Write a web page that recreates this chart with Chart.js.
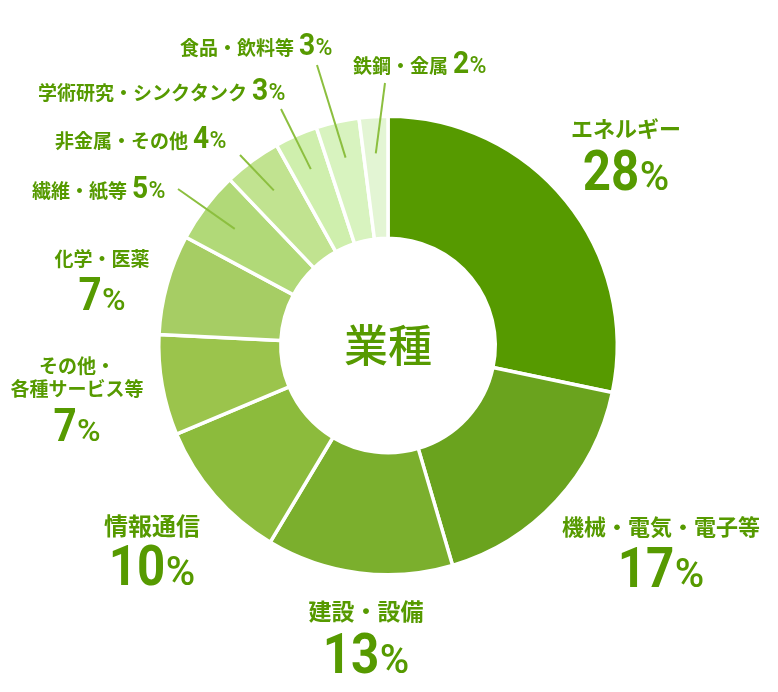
<!DOCTYPE html>
<html lang="ja">
<head>
<meta charset="utf-8">
<title>業種</title>
<script src="https://cdn.jsdelivr.net/npm/chart.js@4"></script>
<style>
  html, body { margin: 0; padding: 0; background: #fff; }
  #wrap { width: 778px; height: 692px; }
</style>
</head>
<body>
<div id="wrap"><canvas id="industryChart" width="778" height="692"></canvas></div>
<script>
// data (percent of total, clockwise from 12 o'clock)
const industries = [
    'エネルギー',
    '機械・電気・電子等',
    '建設・設備',
    '情報通信',
    'その他・\n各種サービス等',
    '化学・医薬',
    '繊維・紙等',
    '非金属・その他',
    '学術研究・シンクタンク',
    '食品・飲料等',
    '鉄鋼・金属'
];
const shares = [28, 17, 13, 10, 7, 7, 5, 4, 3, 3, 2];
const centerTitle = '業種';

const sliceColors = [
    '#569a00', '#6aa31e', '#7baf2d', '#8cbb3c', '#9bc44c', '#a6cd64',
    '#b1d978', '#c1e390', '#cfefad', '#d8f3bf', '#e3f5d4'
];
const TEXT_GREEN = '#569a00';
const LINE_GREEN = '#8cbf3f';

// label placement: stacked = name above a big number, inline = name + number with a leader line
const labelLayout = [
    { type: 'stack', x: 626, lines: [137], num: 190, size: 22, tier: 'big' },
    { type: 'stack', x: 661, lines: [535], num: 587, size: 22, tier: 'big' },
    { type: 'stack', x: 366, lines: [620], num: 673, size: 23, tier: 'big' },
    { type: 'stack', x: 152, lines: [535], num: 585, size: 24, tier: 'big' },
    { type: 'stack', x: 77, lines: [373, 396], num: 441, size: 19, tier: 'mid' },
    { type: 'stack', x: 102, lines: [266], num: 310, size: 19, tier: 'mid' },
    { type: 'inline', x: 32, y: 198, lx: 178, ly: 189 },
    { type: 'inline', x: 55, y: 148, lx: 240, ly: 155 },
    { type: 'inline', x: 38, y: 100, lx: 281, ly: 109 },
    { type: 'inline', x: 180, y: 55, lx: 317, ly: 65 },
    { type: 'inline', x: 353, y: 73, lx: 385, ly: 83 }
];

const numberStyle = {
    big:   { digit: 56, pct: 40 },
    mid:   { digit: 46, pct: 32 },
    small: { digit: 32, pct: 23 }
};
const DIGIT_SQUEEZE = 0.88;

function drawPercent(ctx, value, x, y, tier, align) {
    const st = numberStyle[tier];
    const digits = String(value);
    const digitFont = `700 ${st.digit}px Roboto`;
    const pctFont = `500 ${st.pct}px Roboto`;
    ctx.font = digitFont;
    const dw = ctx.measureText(digits).width * DIGIT_SQUEEZE;
    ctx.font = pctFont;
    const pw = ctx.measureText('%').width;
    const gap = st.digit * 0.01;
    const left = align === 'center' ? x - (dw + gap + pw) / 2 : x;

    ctx.textAlign = 'left';
    ctx.save();
    ctx.translate(left, y);
    ctx.scale(DIGIT_SQUEEZE, 1);
    ctx.font = digitFont;
    ctx.fillText(digits, 0, 0);
    ctx.restore();
    ctx.font = pctFont;
    ctx.fillText('%', left + dw + gap, y);
}

const sliceLabels = {
    id: 'sliceLabels',
    afterDatasetsDraw(chart) {
        const ctx = chart.ctx;
        const meta = chart.getDatasetMeta(0);
        ctx.save();
        ctx.fillStyle = TEXT_GREEN;
        ctx.textBaseline = 'alphabetic';

        meta.data.forEach((arc, i) => {
            const lay = labelLayout[i];
            const lines = industries[i].split('\n');
            if (lay.type === 'stack') {
                ctx.font = `700 ${lay.size}px "Noto Sans CJK JP"`;
                ctx.textAlign = 'center';
                lines.forEach((t, k) => ctx.fillText(t, lay.x, lay.lines[k]));
                drawPercent(ctx, shares[i], lay.x, lay.num, lay.tier, 'center');
            } else {
                ctx.font = '700 19px "Noto Sans CJK JP"';
                ctx.textAlign = 'left';
                ctx.fillText(lines[0], lay.x, lay.y);
                const w = ctx.measureText(lines[0]).width;
                drawPercent(ctx, shares[i], lay.x + w + 5, lay.y, 'small', 'left');

                // leader line into the middle of the slice
                const p = arc.getProps(['x', 'y', 'startAngle', 'endAngle', 'outerRadius'], true);
                const mid = (p.startAngle + p.endAngle) / 2;
                const r = p.outerRadius * 0.84;
                ctx.strokeStyle = LINE_GREEN;
                ctx.lineWidth = 2;
                ctx.beginPath();
                ctx.moveTo(lay.lx, lay.ly);
                ctx.lineTo(p.x + Math.cos(mid) * r, p.y + Math.sin(mid) * r);
                ctx.stroke();
            }
        });

        // title in the hole
        const c = meta.data[0];
        ctx.font = '500 44px "Noto Sans CJK JP"';
        ctx.textAlign = 'center';
        ctx.fillText(centerTitle, c.x, c.y + 16);
        ctx.restore();
    }
};

new Chart(document.getElementById('industryChart'), {
    type: 'doughnut',
    data: {
        labels: industries,
        datasets: [{
            data: shares,
            backgroundColor: sliceColors,
            borderColor: '#ffffff',
            borderWidth: 3.5
        }]
    },
    options: {
        responsive: false,
        animation: false,
        events: [],
        radius: 229.25,
        cutout: 106.75,
        layout: { padding: { left: 158, right: 160, top: 115, bottom: 116 } },
        plugins: { legend: { display: false }, tooltip: { enabled: false } }
    },
    plugins: [sliceLabels]
});
</script>
</body>
</html>
